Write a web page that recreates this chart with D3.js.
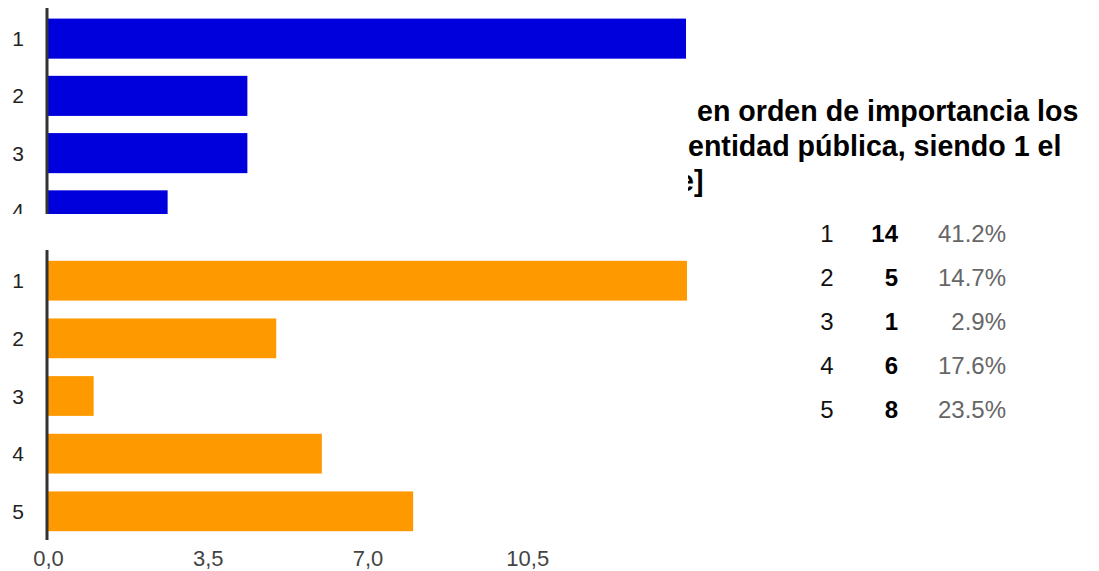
<!DOCTYPE html>
<html lang="es">
<head>
<meta charset="UTF-8" />
<title>Resumen de respuestas</title>
<script src="https://d3js.org/d3.v7.min.js"></script>
<style>
  body { margin: 0; background: #fff; }
  svg { display: block; font-family: "Liberation Sans", Arial, sans-serif; }
  .cat { fill: #222; font-size: 21px; }
  .tick-label { fill: #444; font-size: 22px; }
  .title { fill: #000; font-size: 28.6px; font-weight: bold; }
  .row-cat { fill: #111; font-size: 24px; }
  .row-count { fill: #000; font-size: 24px; font-weight: bold; }
  .row-pct { fill: #666; font-size: 24px; }
</style>
</head>
<body>
<script>
// datos de la pregunta superior (recortada)
const topCategories = ["1", "2", "3", "4"];
const topValues = [16, 5, 5, 3];

// datos de la pregunta inferior
const categories = ["1", "2", "3", "4", "5"];
const counts = [14, 5, 1, 6, 8];
const percents = ["41.2%", "14.7%", "2.9%", "17.6%", "23.5%"];
const xTicks = [0, 3.5, 7, 10.5];

const titleLines = [
  "en orden de importancia los",
  "entidad pública, siendo 1 el",
  "e]"
];

const width = 1099, height = 571;

const svg = d3.select("body").append("svg")
  .attr("width", width)
  .attr("height", height);

const fmt = d => d3.format(".1f")(d).replace(".", ",");

// --- grafico superior (azul), cortado abajo ---
svg.append("clipPath").attr("id", "clipTop")
  .append("rect").attr("x", 0).attr("y", 0).attr("width", 700).attr("height", 214);

const gTop = svg.append("g").attr("clip-path", "url(#clipTop)");

const xTop = d3.scaleLinear().domain([0, 16]).range([48, 686]);
const yTop = d3.scaleBand().domain(topCategories).range([10, 239]).paddingInner(0.3).paddingOuter(0.15);

gTop.selectAll("rect.bar")
  .data(topValues)
  .join("rect")
  .attr("class", "bar")
  .attr("x", xTop(0))
  .attr("y", (d, i) => yTop(topCategories[i]))
  .attr("width", d => xTop(d) - xTop(0))
  .attr("height", yTop.bandwidth())
  .attr("fill", "#0000dd");

gTop.selectAll("text.cat")
  .data(topCategories)
  .join("text")
  .attr("class", "cat")
  .attr("x", 18)
  .attr("y", d => yTop(d) + yTop.bandwidth() / 2)
  .attr("dy", "0.36em")
  .attr("text-anchor", "middle")
  .text(d => d);

gTop.append("line")
  .attr("x1", 47).attr("x2", 47)
  .attr("y1", 8).attr("y2", 239)
  .attr("stroke", "#333").attr("stroke-width", 3);

// --- grafico inferior (naranja) ---
const x = d3.scaleLinear().domain([0, 14]).range([48, 687]);
const y = d3.scaleBand().domain(categories).range([251, 541]).paddingInner(0.31).paddingOuter(0.17);

svg.selectAll("rect.obar")
  .data(counts)
  .join("rect")
  .attr("class", "obar")
  .attr("x", x(0))
  .attr("y", (d, i) => y(categories[i]))
  .attr("width", d => x(d) - x(0))
  .attr("height", y.bandwidth())
  .attr("fill", "#ff9900");

svg.selectAll("text.ocat")
  .data(categories)
  .join("text")
  .attr("class", "cat")
  .attr("x", 18)
  .attr("y", d => y(d) + y.bandwidth() / 2)
  .attr("dy", "0.36em")
  .attr("text-anchor", "middle")
  .text(d => d);

svg.append("line")
  .attr("x1", 47).attr("x2", 47)
  .attr("y1", 250).attr("y2", 540)
  .attr("stroke", "#333").attr("stroke-width", 3);

const xAxis = d3.axisBottom(x).tickValues(xTicks).tickFormat(fmt).tickSize(0).tickPadding(0);
const ax = svg.append("g").attr("transform", "translate(0,566)").call(xAxis);
ax.select(".domain").remove();
ax.selectAll("text")
  .attr("class", "tick-label")
  .attr("fill", null)
  .attr("y", 0)
  .attr("dy", 0);
ax.attr("font-family", null).attr("font-size", null);

// --- titulo recortado a la izquierda ---
svg.append("clipPath").attr("id", "clipTitle")
  .append("rect").attr("x", 688).attr("y", 80).attr("width", 420).attr("height", 130);

const gTitle = svg.append("g").attr("clip-path", "url(#clipTitle)");
const titleX = [697, 688, 678];
gTitle.selectAll("text.title")
  .data(titleLines)
  .join("text")
  .attr("class", "title")
  .attr("x", (d, i) => titleX[i])
  .attr("y", (d, i) => 121 + i * 35)
  .text(d => d);

// --- tabla de recuento ---
const rowY = d3.scalePoint().domain(categories).range([242, 418]);

const rows = svg.selectAll("g.row")
  .data(categories)
  .join("g")
  .attr("class", "row")
  .attr("transform", d => `translate(0,${rowY(d)})`);

rows.append("text").attr("class", "row-cat")
  .attr("x", 827).attr("text-anchor", "middle").text(d => d);
rows.append("text").attr("class", "row-count")
  .attr("x", 898).attr("text-anchor", "end").text((d, i) => counts[i]);
rows.append("text").attr("class", "row-pct")
  .attr("x", 1006).attr("text-anchor", "end").text((d, i) => percents[i]);
</script>
</body>
</html>
